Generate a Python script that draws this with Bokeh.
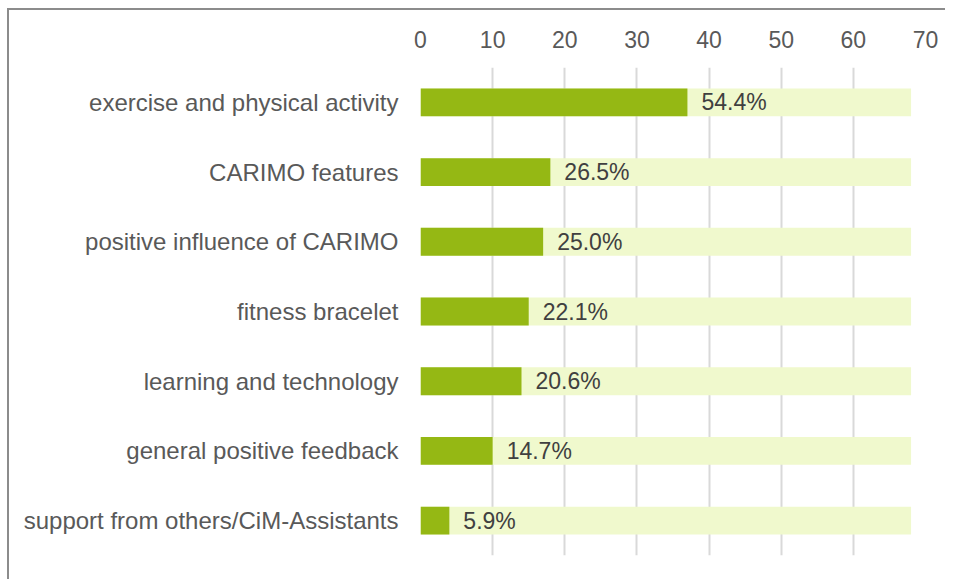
from bokeh.plotting import figure
from bokeh.models import FactorRange, ColumnDataSource, Range1d, FixedTicker
from bokeh.core.properties import value
from bokeh.embed import file_html
from bokeh.resources import INLINE

categories = ["exercise and physical activity", "CARIMO features",
              "positive influence of CARIMO", "fitness bracelet",
              "learning and technology", "general positive feedback",
              "support from others/CiM-Assistants"]
counts = [37, 18, 17, 15, 14, 10, 4]
total = 68
pct_labels = ["54.4%", "26.5%", "25.0%", "22.1%", "20.6%", "14.7%", "5.9%"]
x_ticks = [0, 10, 20, 30, 40, 50, 60, 70]

src = ColumnDataSource(dict(cat=categories, cnt=counts, tot=[total] * len(categories),
                            lab=pct_labels))

p = figure(width=938, height=571, output_backend="svg", toolbar_location=None,
           y_range=FactorRange(*categories[::-1], range_padding=0),
           x_range=Range1d(0, 70), x_axis_location="above",
           min_border_left=411, min_border_right=22, min_border_top=57,
           min_border_bottom=26)
p.styles = {"margin-left": "7px", "margin-top": "8px",
            "border-left": "2px solid #8c8c8c", "border-top": "2px solid #8c8c8c"}
p.outline_line_color = None

p.hbar(y="cat", left=0, right="tot", height=0.4, source=src,
       fill_color="#f0f9cd", line_color=None)
p.hbar(y="cat", left=0, right="cnt", height=0.4, source=src,
       fill_color="#95b814", line_color=None)
p.text(x="cnt", y="cat", text="lab", source=src, x_offset=14,
       text_align="left", text_baseline="middle", text_font_size="23px",
       text_color="#404040", text_font=value("Liberation Sans"))

p.xaxis.ticker = FixedTicker(ticks=x_ticks)
p.xaxis.axis_line_color = None
p.xaxis.major_tick_line_color = None
p.xaxis.minor_tick_line_color = None
p.xaxis.major_label_text_font_size = "23px"
p.xaxis.major_label_text_color = "#595959"
p.xaxis.major_label_text_font = "Liberation Sans"
p.xaxis.major_label_standoff = 14

p.yaxis.axis_line_color = None
p.yaxis.major_tick_line_color = None
p.yaxis.minor_tick_line_color = None
p.yaxis.major_label_text_font_size = "24px"
p.yaxis.major_label_text_color = "#595959"
p.yaxis.major_label_text_font = "Liberation Sans"
p.yaxis.major_label_standoff = 16

p.ygrid.grid_line_color = None
p.xgrid.grid_line_color = "#d9d9d9"
p.xgrid.grid_line_width = 2

open("out.html", "w").write(file_html(p, INLINE))
